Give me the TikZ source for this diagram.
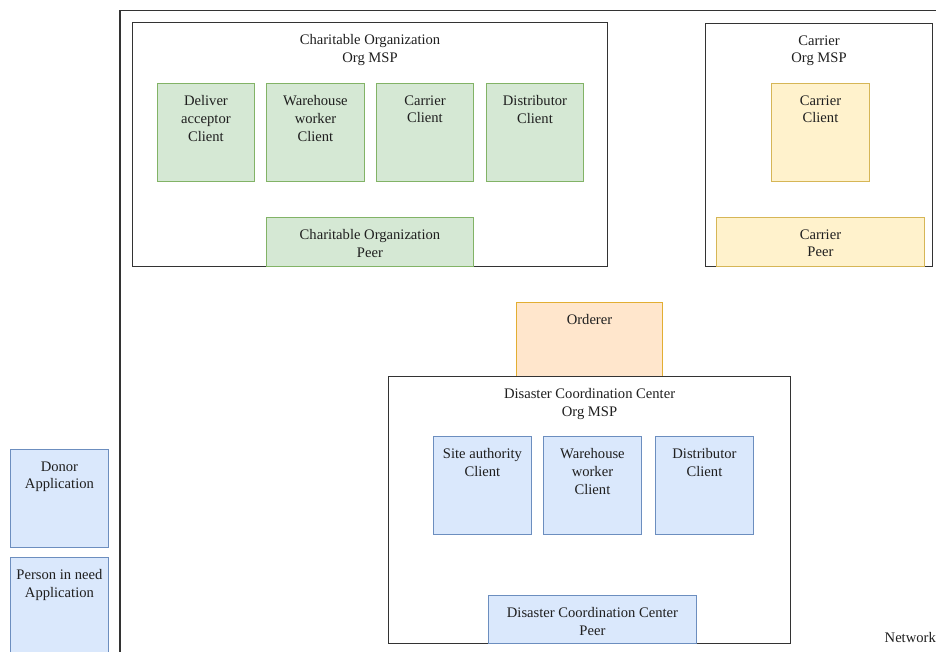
\documentclass[tikz,border=0pt]{standalone}
\usepackage{fontspec}
\setmainfont{Liberation Serif}
\begin{document}
\begin{tikzpicture}[x=1pt,y=-1pt,
  lbl/.style={font=\fontsize{14.6}{17.6}\selectfont, align=center, inner sep=0pt, text=black!88},
  base/.style={draw, rectangle, inner sep=0pt, anchor=north west},
  cont/.style={base, draw=black!80, line width=1.1pt, fill=white},
  gbox/.style={base, draw={rgb,255:red,130;green,179;blue,102}, fill={rgb,255:red,213;green,232;blue,212}, line width=0.9pt},
  ybox/.style={base, draw={rgb,255:red,214;green,182;blue,86}, fill={rgb,255:red,255;green,242;blue,204}, line width=0.9pt},
  obox/.style={base, draw={rgb,255:red,226;green,174;blue,50}, fill={rgb,255:red,255;green,230;blue,204}, line width=1pt},
  bbox/.style={base, draw={rgb,255:red,108;green,142;blue,191}, fill={rgb,255:red,218;green,232;blue,252}, line width=0.9pt},
  toplabel/.style={label={[lbl, anchor=north, yshift=-12.5pt]north:#1}}
]
\useasboundingbox (0,0) rectangle (937,652);
\clip (0,0) rectangle (937,652);
\fill[white] (0,0) rectangle (937,652);

% network boundary (left and top edges)
\coordinate (nwtop) at (120,10.5);
\coordinate (nwright) at (936,10.5);
\coordinate (nwbottom) at (120,660);
\draw[black!80, line width=1.2pt] (nwbottom) -- (nwtop) -- (nwright);
\node[lbl, anchor=east] (network) at (936,638) {Network};

% Charitable Organization
\node[cont, minimum width=475, minimum height=244, toplabel={Charitable Organization\\Org MSP}] (co) at (132,22) {};
\node[gbox, minimum width=97, minimum height=98, toplabel={Deliver\\acceptor\\Client}] (codel) at (157,83) {};
\node[gbox, minimum width=98, minimum height=98, toplabel={Warehouse\\worker\\Client}] (cowh) at (266,83) {};
\node[gbox, minimum width=97, minimum height=98, toplabel={Carrier\\Client}] (cocar) at (376,83) {};
\node[gbox, minimum width=97, minimum height=98, toplabel={Distributor\\Client}] (codist) at (486,83) {};
\node[gbox, minimum width=207, minimum height=49, toplabel={Charitable Organization\\Peer}] (copeer) at (266,217) {};

% Carrier
\node[cont, minimum width=227, minimum height=243, toplabel={Carrier\\Org MSP}] (ca) at (705,23) {};
\node[ybox, minimum width=98, minimum height=98, toplabel={Carrier\\Client}] (caclient) at (771,83) {};
\node[ybox, minimum width=208, minimum height=49, toplabel={Carrier\\Peer}] (capeer) at (716,217) {};

% Orderer
\node[obox, minimum width=146, minimum height=74, toplabel={Orderer}] (orderer) at (516,302) {};

% Disaster Coordination Center
\node[cont, minimum width=402, minimum height=267, toplabel={Disaster Coordination Center\\Org MSP}] (dcc) at (388,376) {};
\node[bbox, minimum width=98, minimum height=98, toplabel={Site authority\\Client}] (dccsite) at (433,436) {};
\node[bbox, minimum width=98, minimum height=98, toplabel={Warehouse\\worker\\Client}] (dccwh) at (543,436) {};
\node[bbox, minimum width=98, minimum height=98, toplabel={Distributor\\Client}] (dccdist) at (655,436) {};
\node[bbox, minimum width=208, minimum height=48, toplabel={Disaster Coordination Center\\Peer}] (dccpeer) at (488,595) {};

% Applications outside the network
\node[bbox, minimum width=98, minimum height=98, toplabel={Donor\\Application}] (donor) at (10,449) {};
\node[bbox, minimum width=98, minimum height=105, toplabel={Person in need\\Application}] (pin) at (10,557) {};
\end{tikzpicture}
\end{document}
